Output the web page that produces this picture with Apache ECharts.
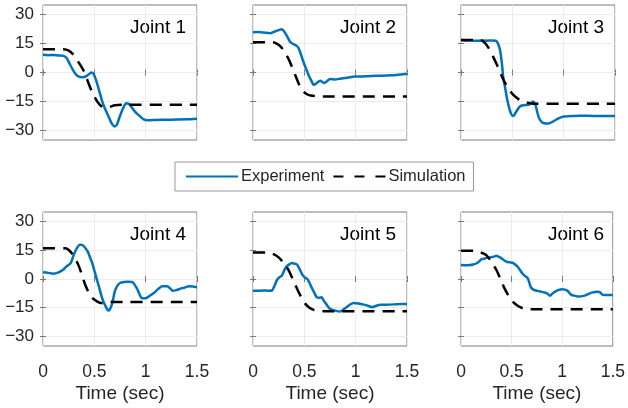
<!DOCTYPE html>
<html>
<head>
<meta charset="utf-8">
<script src="https://cdn.jsdelivr.net/npm/echarts@6/dist/echarts.min.js"></script>
<style>
  html, body { margin: 0; padding: 0; background: #fff; }
  #chart { width: 628px; height: 408px; }
</style>
</head>
<body>
<div id="chart"></div>
<script>
// joint names and axis ticks
let jointNames = ['Joint 1', 'Joint 2', 'Joint 3', 'Joint 4', 'Joint 5', 'Joint 6'];
let yTicks = [-30, -15, 0, 15, 30];
let xTicks = [0, 0.5, 1, 1.5];

// experiment curves, [time, value]
let exp1 = [[0,9.2],[0.05,9.0],[0.1,9.1],[0.15,8.8],[0.2,8.6],[0.23,7.5],[0.26,4.5],[0.29,1.5],[0.32,-1.0],[0.35,-2.2],[0.38,-2.5],[0.41,-2.2],[0.44,-1.2],[0.47,0],[0.49,-0.5],[0.52,-4.5],[0.55,-10],[0.58,-15.5],[0.61,-19.5],[0.64,-23],[0.67,-26.5],[0.70,-28],[0.72,-27],[0.75,-22.5],[0.78,-18.5],[0.81,-16],[0.84,-16.5],[0.87,-18.5],[0.90,-20.5],[0.94,-22.5],[0.98,-24.3],[1.02,-24.8],[1.1,-24.6],[1.2,-24.5],[1.3,-24.4],[1.4,-24.3],[1.5,-24.0]];
let exp2 = [[0,20.9],[0.05,21],[0.1,20.8],[0.15,20.5],[0.17,20.3],[0.2,21],[0.25,22],[0.28,22.4],[0.3,21.5],[0.33,19],[0.36,16],[0.39,14.8],[0.42,14],[0.44,13],[0.46,10.5],[0.49,5.7],[0.52,1.5],[0.54,-1.2],[0.57,-4.5],[0.59,-6.4],[0.62,-5.5],[0.64,-4.6],[0.66,-4.3],[0.69,-5.5],[0.72,-4.5],[0.75,-3.4],[0.8,-3.6],[0.85,-3.2],[0.9,-2.8],[1.0,-2.1],[1.1,-2.0],[1.2,-1.7],[1.3,-1.6],[1.4,-1.3],[1.5,-0.7]];
let exp3 = [[0,16.9],[0.05,16.5],[0.1,16.6],[0.15,16.4],[0.2,16.6],[0.25,16.5],[0.3,16.6],[0.34,16.5],[0.36,15],[0.38,11.7],[0.4,4],[0.41,-2],[0.43,-8],[0.45,-14],[0.47,-18.5],[0.485,-21],[0.5,-22.4],[0.515,-22.4],[0.53,-21],[0.55,-19.3],[0.57,-17.8],[0.59,-17.1],[0.62,-16.9],[0.66,-16.7],[0.68,-16],[0.70,-15],[0.72,-16],[0.73,-17.6],[0.745,-21],[0.76,-23.6],[0.78,-25.3],[0.80,-26.2],[0.85,-26.5],[0.9,-25.3],[0.95,-23.8],[1.0,-22.8],[1.1,-22.5],[1.16,-22.4],[1.3,-22.5],[1.4,-22.6],[1.5,-22.6]];
let exp4 = [[0,3.5],[0.05,3.2],[0.1,2.8],[0.14,3.2],[0.17,4],[0.2,5],[0.23,6.6],[0.27,8.3],[0.30,12.7],[0.33,16.1],[0.36,17.9],[0.38,17.8],[0.40,17],[0.435,14.4],[0.46,11],[0.48,8.3],[0.505,3.5],[0.53,-1.2],[0.55,-5],[0.57,-9],[0.59,-12],[0.61,-14.2],[0.625,-15.8],[0.64,-16.5],[0.655,-15.5],[0.67,-13.4],[0.685,-10],[0.70,-6.4],[0.725,-3.5],[0.75,-2.1],[0.79,-1.6],[0.83,-1.5],[0.87,-1.6],[0.895,-3.2],[0.92,-5.5],[0.94,-8],[0.96,-9.9],[0.99,-10.1],[1.01,-9.9],[1.04,-8.8],[1.08,-7.3],[1.12,-5.3],[1.16,-3.8],[1.21,-3.8],[1.24,-5],[1.26,-6.1],[1.30,-5.8],[1.34,-5],[1.38,-4.5],[1.42,-3.8],[1.46,-3.9],[1.5,-4.3]];
let exp5 = [[0,-6.1],[0.05,-6.2],[0.1,-6.0],[0.15,-6.1],[0.185,-6.0],[0.21,-3.5],[0.23,-0.9],[0.255,0.8],[0.28,1.7],[0.30,4],[0.32,6.1],[0.35,7.5],[0.38,8.3],[0.405,8.0],[0.43,7.5],[0.455,5],[0.48,2.3],[0.505,0.8],[0.53,0],[0.55,-2],[0.57,-4.3],[0.595,-7],[0.62,-9.5],[0.645,-9.8],[0.67,-9.5],[0.685,-11],[0.70,-12.1],[0.725,-14],[0.75,-15.6],[0.80,-16.5],[0.85,-17],[0.88,-16],[0.92,-14.4],[0.95,-13.2],[0.98,-12.5],[1.03,-12.8],[1.08,-13.4],[1.12,-14],[1.16,-14.7],[1.2,-14],[1.24,-13.4],[1.3,-13.4],[1.4,-13.2],[1.5,-13.0]];
let exp6 = [[0,7.3],[0.05,7.2],[0.09,7.3],[0.12,7.6],[0.15,8.1],[0.18,9.2],[0.20,10.2],[0.24,10.8],[0.28,11.3],[0.32,11.6],[0.35,12.1],[0.375,11.5],[0.40,10.8],[0.425,9.8],[0.45,9],[0.48,8.7],[0.51,8.5],[0.535,7.6],[0.56,6.4],[0.585,4.5],[0.61,2.6],[0.635,1.5],[0.66,0.3],[0.675,-2],[0.69,-4.3],[0.72,-5.7],[0.755,-6.2],[0.79,-6.6],[0.82,-7],[0.85,-7.5],[0.88,-8.7],[0.905,-7.5],[0.93,-6.6],[0.96,-5.8],[1.0,-5.4],[1.05,-6.1],[1.09,-8.3],[1.13,-8.8],[1.16,-9.2],[1.22,-8.7],[1.26,-7.8],[1.29,-7.1],[1.35,-6.6],[1.375,-7],[1.40,-8.3],[1.45,-8.4],[1.5,-8.3]];

// simulation curves, [time, value]
let sim1 = [[0,12],[0.2,12],[0.25,11.3],[0.3,9],[0.35,5],[0.4,0.5],[0.45,-6.5],[0.5,-12.5],[0.55,-16.5],[0.6,-18.2],[0.65,-17.8],[0.7,-17],[0.8,-16.7],[1.5,-16.7]];
let sim2 = [[0,15.7],[0.19,15.7],[0.23,15],[0.27,13.4],[0.31,10.5],[0.35,6.6],[0.39,1.5],[0.43,-3.8],[0.46,-7.5],[0.49,-9.8],[0.53,-11.4],[0.56,-11.9],[0.62,-12.3],[0.7,-12.4],[1.5,-12.4]];
let sim3 = [[0,16.9],[0.185,16.9],[0.23,15.5],[0.27,12.6],[0.31,8.5],[0.35,4],[0.39,-1],[0.43,-5.5],[0.47,-9],[0.51,-11.6],[0.56,-13.8],[0.61,-15],[0.66,-15.8],[0.70,-16.2],[1.5,-16.2]];
let sim4 = [[0,16.1],[0.22,16.1],[0.25,15.2],[0.28,13.5],[0.315,10.5],[0.35,6.6],[0.38,2],[0.41,-2.9],[0.445,-7],[0.48,-9.9],[0.52,-11.5],[0.56,-12.5],[0.61,-12.4],[0.66,-12],[1.5,-12]];
let sim5 = [[0,13.9],[0.15,13.9],[0.2,13],[0.25,11.3],[0.3,8.2],[0.35,4.3],[0.39,-0.5],[0.43,-5.2],[0.47,-9.5],[0.51,-13],[0.55,-15],[0.59,-16.1],[0.64,-16.6],[0.69,-16.8],[1.5,-16.8]];
let sim6 = [[0,14.7],[0.15,14.7],[0.2,13.8],[0.25,12.5],[0.3,9],[0.35,4.7],[0.39,0],[0.43,-4.9],[0.47,-8.8],[0.51,-11.8],[0.56,-14],[0.61,-15.3],[0.66,-15.7],[0.72,-15.8],[1.5,-15.8]];

let expData = [exp1, exp2, exp3, exp4, exp5, exp6];
let simData = [sim1, sim2, sim3, sim4, sim5, sim6];

let chart = echarts.init(document.getElementById('chart'));

let font = 'Liberation Sans, Arial, Helvetica, sans-serif';
let boxColor = '#7a7a7a';
let textColor = '#262626';
let lefts = [43, 253, 461];
let tops = [5, 212];
let heights = [135, 134];
let W = 154;

let grids = [], xAxes = [], yAxes = [], series = [], texts = [];

for (let i = 0; i < 6; i++) {
    let row = Math.floor(i / 3), col = i % 3;
    grids.push({
        left: lefts[col], top: tops[row], width: W, height: heights[row],
        show: true, borderColor: boxColor, borderWidth: 1, backgroundColor: '#fff'
    });
    // bottom x axis
    xAxes.push({
        type: 'value', gridIndex: i, min: 0, max: 1.5, interval: 0.5,
        position: 'bottom',
        name: row === 1 ? 'Time (sec)' : '',
        nameLocation: 'middle', nameGap: 38, nameMoveOverlap: false,
        nameTextStyle: { fontSize: 19, color: textColor, fontFamily: font },
        axisLine: { show: false },
        axisTick: { show: true, inside: true, length: 3, lineStyle: { color: boxColor } },
        axisLabel: {
            show: row === 1, fontSize: 17.5, color: textColor, fontFamily: font, margin: 17,
            formatter: v => String(v)
        },
        splitLine: { show: true, lineStyle: { color: '#ececec', width: 1 } }
    });
    // top x axis, ticks only
    xAxes.push({
        type: 'value', gridIndex: i, min: 0, max: 1.5, interval: 0.5,
        position: 'top',
        axisLine: { show: false },
        axisTick: { show: true, inside: true, length: 3, lineStyle: { color: boxColor } },
        axisLabel: { show: false },
        splitLine: { show: false }
    });
    // left y axis
    yAxes.push({
        type: 'value', gridIndex: i, min: -35, max: 35,
        position: 'left',
        axisLine: { show: false },
        axisTick: { show: true, inside: true, length: 3, customValues: yTicks, lineStyle: { color: boxColor } },
        axisLabel: {
            show: col === 0, customValues: yTicks, fontSize: 17, color: textColor,
            fontFamily: font, margin: 9,
            formatter: v => String(v).replace('-', '\u2212')
        },
        splitLine: { show: true, lineStyle: { color: '#ececec', width: 1 } }
    });
    // right y axis, ticks only
    yAxes.push({
        type: 'value', gridIndex: i, min: -35, max: 35,
        position: 'right',
        axisLine: { show: false },
        axisTick: { show: true, inside: true, length: 3, customValues: yTicks, lineStyle: { color: boxColor } },
        axisLabel: { show: false, customValues: yTicks },
        splitLine: { show: false }
    });

    series.push({
        name: 'Simulation', type: 'line', xAxisIndex: 2 * i, yAxisIndex: 2 * i,
        data: simData[i], showSymbol: false, symbol: 'none', smooth: 0.3,
        lineStyle: { color: '#000', width: 2.5, type: [12, 8] },
        itemStyle: { color: '#000' }, z: 3
    });
    series.push({
        name: 'Experiment', type: 'line', xAxisIndex: 2 * i, yAxisIndex: 2 * i,
        data: expData[i], showSymbol: false, symbol: 'none', smooth: 0.2,
        lineStyle: { color: '#0072bd', width: 2.5 },
        itemStyle: { color: '#0072bd' }, z: 2
    });

    texts.push({
        type: 'text',
        right: 628 - (lefts[col] + W - 11),
        top: tops[row] + 13,
        style: { text: jointNames[i], fontSize: 19, fill: '#000', font: '19px ' + font }
    });
}

let option = {
    animation: false,
    backgroundColor: '#fff',
    grid: grids,
    xAxis: xAxes,
    yAxis: yAxes,
    legend: {
        data: [
            { name: 'Experiment' },
            { name: 'Simulation', lineStyle: { type: [10, 11] } }
        ],
        left: 175, top: 162,
        padding: [6, 8, 6, 10],
        itemWidth: 52, itemHeight: 14, itemGap: 8,
        borderColor: '#9a9a9a', borderWidth: 1,
        backgroundColor: '#fff',
        itemStyle: { opacity: 0 },
        textStyle: { fontSize: 16.5, color: textColor, fontFamily: font, padding: [0, 0, 0, -2] }
    },
    graphic: texts,
    series: series
};

chart.setOption(option);
</script>
</body>
</html>
